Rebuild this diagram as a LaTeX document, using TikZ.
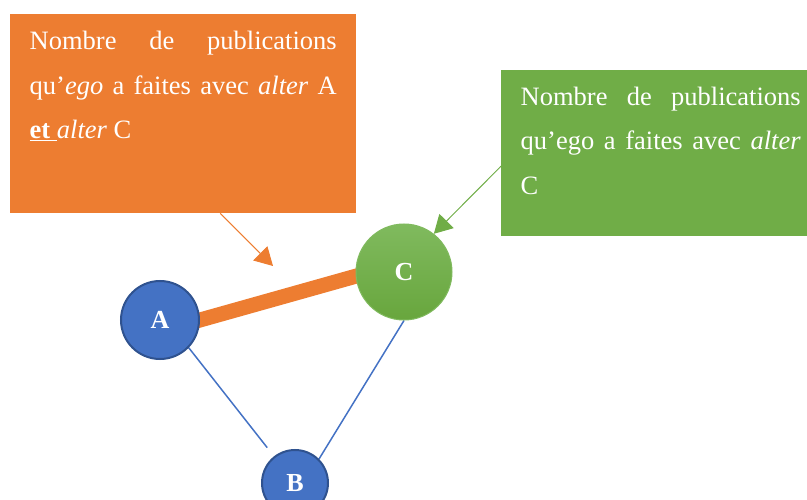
\documentclass[tikz,border=0pt]{standalone}
\usepackage{fontspec}
\setmainfont{Liberation Serif}
\usetikzlibrary{arrows.meta, backgrounds, positioning}
\definecolor{orangebox}{HTML}{ED7D31}
\definecolor{greenbox}{HTML}{70AD47}
\definecolor{bluenode}{HTML}{4472C4}
\definecolor{blueline}{HTML}{2F528F}
\definecolor{greentop}{HTML}{80BA5E}
\definecolor{greenbot}{HTML}{68A63D}
\begin{document}
\begin{tikzpicture}[x=1pt, y=-1pt,
	note/.style = {anchor=north west, text=white, align=justify, inner xsep=19.5pt, inner ysep=12pt, text height=23.5pt, font=\fontsize{26.5pt}{44.5pt}\selectfont},
	ego/.style = {circle, draw=blueline, line width=2pt, fill=bluenode, text=white, font=\fontsize{26pt}{26pt}\selectfont\bfseries},
	tie/.style = {draw=bluenode, line width=1.5pt},
	pointer/.style = {-{Triangle[length=18pt, width=20pt]}, line width=1pt}]
		\useasboundingbox (0,0) rectangle (807,500);
		\node[note, fill=orangebox, text width=307pt, text depth=151.5pt] (orange) at (10,14) {Nombre de publications\linebreak qu’\textit{ego} a faites avec \textit{alter} A\linebreak \underline{\textbf{et}\ }\textit{alter} C};
		\node[note, fill=greenbox, text width=280pt, inner ysep=11.5pt, text depth=119.5pt] (green) at (501,70) {Nombre de publications\linebreak qu’ego a faites avec \textit{alter}\linebreak C};
		
		\node[ego, minimum size=78pt] (A) at (160,320) {A};
		\node[ego, minimum size=66pt] (B) at (295,483) {B};
		\node[circle, draw=greentop, line width=1pt, top color=greentop, bottom color=greenbot, text=white, font=\fontsize{26pt}{26pt}\selectfont\bfseries, minimum size=96pt] (C) at (404,272) {C};
		
		\begin{scope}[on background layer]
		\draw[orangebox, line width=15pt, shorten <=-8pt, shorten >=-8pt] (A.east) -- (C.185);
		\draw[tie, shorten >=11pt] (A.-44) -- (B);
		\draw[tie] (C.south) -- (B.45);
		\end{scope}
		
		\coordinate (otip) at (273,266);
		\draw[pointer, orangebox] ([xshift=37pt]orange.south) -- (otip);
		\draw[pointer, greenbox] ([yshift=-13pt]green.west) -- (C.52);
\end{tikzpicture}
\end{document}
